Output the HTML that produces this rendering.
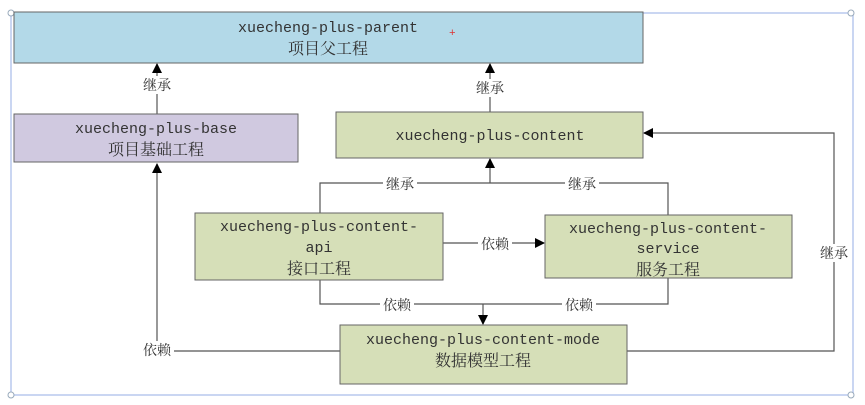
<!DOCTYPE html>
<html><head><meta charset="utf-8"><style>
html,body{margin:0;padding:0;background:#fff;width:865px;height:405px;overflow:hidden}
text{font-family:"Liberation Mono","Noto Serif CJK SC","Noto Sans CJK SC",monospace;fill:#333}
.c{font-family:"Noto Serif CJK SC","Noto Sans CJK SC",serif}
</style></head><body>
<svg width="865" height="405" viewBox="0 0 865 405" xmlns="http://www.w3.org/2000/svg">
<defs><marker id="a" markerWidth="10" markerHeight="10" refX="9" refY="5" orient="auto" markerUnits="userSpaceOnUse"><path d="M0,0 L10,5 L0,10 z" fill="#000"/></marker></defs>
<rect x="11" y="13" width="842" height="382" fill="none" stroke="#b8c8ee" stroke-width="1.5"/>
<circle cx="11" cy="13" r="3" fill="#fff" stroke="#9ab"/><circle cx="851" cy="13" r="3" fill="#fff" stroke="#9ab"/>
<circle cx="11" cy="395" r="3" fill="#fff" stroke="#9ab"/><circle cx="851" cy="395" r="3" fill="#fff" stroke="#9ab"/>
<g stroke="#555" stroke-width="1.2" fill="none">
<line x1="157" y1="114" x2="157" y2="64" marker-end="url(#a)"/>
<line x1="490" y1="112" x2="490" y2="64" marker-end="url(#a)"/>
<polyline points="320,213 320,183 668,183 668,215"/>
<line x1="490" y1="183" x2="490" y2="159" marker-end="url(#a)"/>
<line x1="443" y1="243" x2="544" y2="243" marker-end="url(#a)"/>
<polyline points="320,280 320,304 668,304 668,278"/>
<line x1="483" y1="304" x2="483" y2="324" marker-end="url(#a)"/>
<polyline points="340,351 157,351 157,164" marker-end="url(#a)"/>
<polyline points="627,351 834,351 834,133 644,133" marker-end="url(#a)"/>
</g>
<rect x="14" y="12" width="629" height="51" fill="#b3d9e8" stroke="#666"/>
<rect x="14" y="114" width="284" height="48" fill="#d0c9e0" stroke="#666"/>
<rect x="336" y="112" width="307" height="46" fill="#d6dfb8" stroke="#666"/>
<rect x="195" y="213" width="248" height="67" fill="#d6dfb8" stroke="#666"/>
<rect x="545" y="215" width="247" height="63" fill="#d6dfb8" stroke="#666"/>
<rect x="340" y="325" width="287" height="59" fill="#d6dfb8" stroke="#666"/>
<g font-size="15" text-anchor="middle">
<text x="328" y="32">xuecheng-plus-parent</text>
<text x="328" y="54" class="c" font-size="16">项目父工程</text>
<text x="156" y="133">xuecheng-plus-base</text>
<text x="156" y="155" class="c" font-size="16">项目基础工程</text>
<text x="490" y="140">xuecheng-plus-content</text>
<text x="319" y="231">xuecheng-plus-content-</text>
<text x="319" y="252">api</text>
<text x="319" y="274" class="c" font-size="16">接口工程</text>
<text x="668" y="233">xuecheng-plus-content-</text>
<text x="668" y="253">service</text>
<text x="668" y="275" class="c" font-size="16">服务工程</text>
<text x="483" y="344">xuecheng-plus-content-mode</text>
<text x="483" y="366" class="c" font-size="16">数据模型工程</text>
</g>
<g font-size="14" text-anchor="middle" class="c">
<rect x="140" y="76" width="34" height="18" fill="#fff"/><text x="157" y="90" class="c">继承</text>
<rect x="473" y="79" width="34" height="18" fill="#fff"/><text x="490" y="93" class="c">继承</text>
<rect x="383" y="175" width="34" height="16" fill="#fff"/><text x="400" y="189" class="c">继承</text>
<rect x="565" y="175" width="34" height="16" fill="#fff"/><text x="582" y="189" class="c">继承</text>
<rect x="478" y="235" width="34" height="16" fill="#fff"/><text x="495" y="249" class="c">依赖</text>
<rect x="380" y="296" width="34" height="16" fill="#fff"/><text x="397" y="310" class="c">依赖</text>
<rect x="562" y="296" width="34" height="16" fill="#fff"/><text x="579" y="310" class="c">依赖</text>
<rect x="140" y="341" width="34" height="18" fill="#fff"/><text x="157" y="355" class="c">依赖</text>
<rect x="817" y="244" width="34" height="18" fill="#fff"/><text x="834" y="258" class="c">继承</text>
</g>
<text x="449" y="36" fill="#d33" font-size="11" style="fill:#d33">+</text>
</svg>
</body></html>
